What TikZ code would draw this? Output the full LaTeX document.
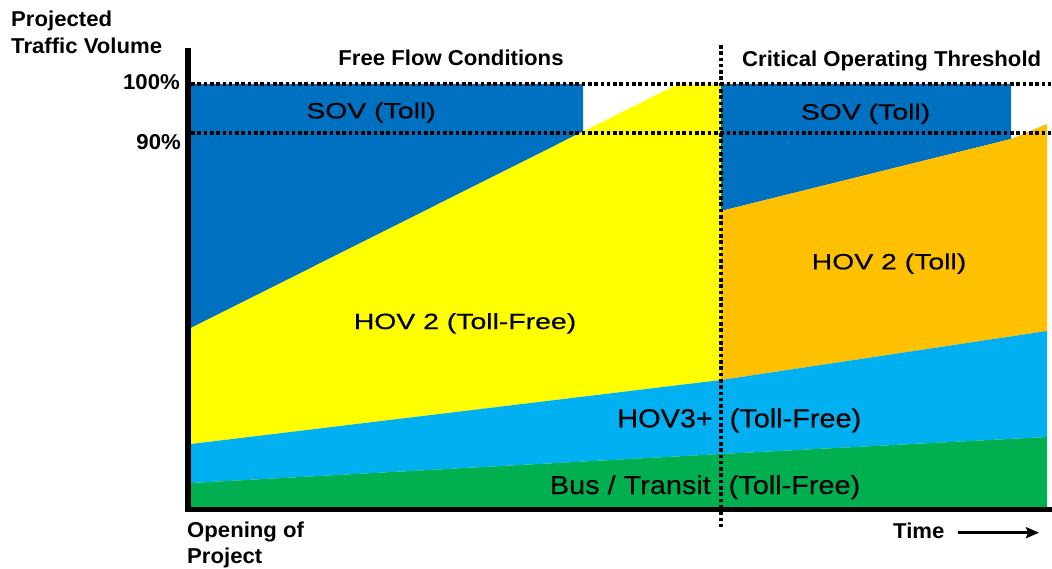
\documentclass[tikz,border=0pt]{standalone}
\usepackage{fontspec}
\setmainfont{Liberation Sans}
\newfontfamily\wideR{Liberation Sans}[FakeStretch=1.29,FakeBold=0.4]
\newfontfamily\midR{Liberation Sans}[FakeStretch=1.11,FakeBold=0.4]
\newfontfamily\boldB{Liberation Sans}[FakeStretch=1.03]
\usetikzlibrary{arrows.meta}
\definecolor{sovblue}{RGB}{0,112,192}
\definecolor{hovyellow}{RGB}{255,255,0}
\definecolor{hovorange}{RGB}{255,192,0}
\definecolor{hovcyan}{RGB}{0,176,240}
\definecolor{busgreen}{RGB}{0,176,80}
\tikzset{
  dotline/.style={line width=3.6pt, dash pattern=on 3.6pt off 2.7pt},
  axisline/.style={line width=#1, black},
  boldlbl/.style={inner sep=0pt, font=\boldB\bfseries\fontsize{21.5}{26}\selectfont},
  widelbl/.style={inner sep=0pt, font=\wideR\fontsize{22}{26}\selectfont},
  midlbl/.style={inner sep=0pt, font=\midR\fontsize{26}{30}\selectfont},
}
\begin{document}
\begin{tikzpicture}[x=1pt,y=-1pt]
\useasboundingbox (0,0) rectangle (1052,569);
\fill[white] (0,0) rectangle (1052,569);
% areas
\fill[sovblue] (191,84) -- (583,84) -- (583,131.6) -- (191,328) -- cycle;
\fill[hovyellow] (191,328) -- (678,84) -- (721,84) -- (721,380) -- (191,444) -- cycle;
\fill[sovblue] (721,84) -- (1011,84) -- (1011,139) -- (721,211) -- cycle;
\fill[hovorange] (721,211) -- (1011,139) -- (1047,124) -- (1047,331) -- (721,380) -- cycle;
\fill[hovcyan] (191,444) -- (721,380) -- (1047,331) -- (1047,437) -- (721,454) -- (191,483) -- cycle;
\fill[busgreen] (191,483) -- (721,454) -- (1047,437) -- (1047,509) -- (191,509) -- cycle;
% dotted reference lines
\draw[dotline] (191,84) -- (1052,84);
\draw[dotline] (191,133) -- (1052,133);
\draw[dotline] (721,45) -- (721,527);
% axes
\draw[axisline=6pt] (188,48) -- (188,512);
\draw[axisline=5pt] (185,509.5) -- (1052,509.5);
% axis labels
\node[boldlbl, anchor=base west] (ylab1) at (11,27) {Projected};
\node[boldlbl, anchor=base west] (ylab2) at (11,54) {Traffic Volume};
\node[boldlbl, anchor=base east] (p100) at (180,90) {100\%};
\node[boldlbl, anchor=base east] (p90) at (181,150) {90\%};
\node[boldlbl, anchor=base] (free) at (451,66) {Free Flow Conditions};
\node[boldlbl, anchor=base west] (crit) at (742,66.5) {Critical Operating Threshold};
\node[boldlbl, anchor=base west] (open1) at (187,537) {Opening of};
\node[boldlbl, anchor=base west] (open2) at (187,563) {Project};
\node[boldlbl, anchor=base west] (time) at (893,538.3) {Time};
\coordinate (arrS) at (958,532.7);
\coordinate (arrE) at (1039,532.7);
\draw[line width=2.6pt, -{Stealth[length=13pt,width=11pt,inset=2pt]}] (arrS) -- (arrE);
% area labels
\node[widelbl, anchor=base] (sov1) at (371,118.3) {SOV (Toll)};
\node[widelbl, anchor=base] (sov2) at (865.5,119.5) {SOV (Toll)};
\node[widelbl, anchor=base] (hov2f) at (465,329) {HOV 2 (Toll-Free)};
\node[widelbl, anchor=base] (hov2t) at (889,269.3) {HOV 2 (Toll)};
\node[midlbl, anchor=base east] (hov3) at (713,427.3) {HOV3+};
\node[midlbl, anchor=base west] (hov3f) at (729.5,427.3) {(Toll-Free)};
\node[midlbl, anchor=base east] (bus) at (711,494) {Bus / Transit};
\node[midlbl, anchor=base west] (busf) at (728.5,494) {(Toll-Free)};
\end{tikzpicture}
\end{document}
